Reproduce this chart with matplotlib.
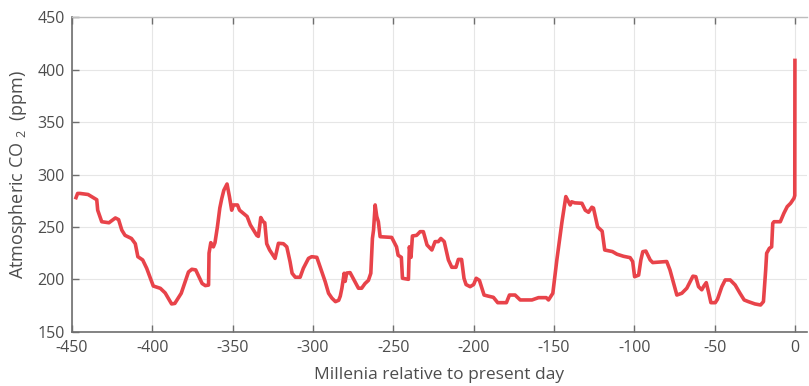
import matplotlib.pyplot as plt

plt.rcParams['font.family'] = ['Open Sans', 'DejaVu Sans']
plt.rcParams['mathtext.fontset'] = 'custom'
plt.rcParams['mathtext.rm'] = 'Open Sans'
plt.rcParams['mathtext.it'] = 'Open Sans'
plt.rcParams['axes.unicode_minus'] = False

# CO2 record (thousands of years before present, ppm)
millenia = [-447.5, -446.5, -445, -440, -434.6, -434, -431.5, -427, -423, -421,
            -419, -417, -413, -410.6, -409, -406, -403.5, -399.4, -395, -392,
            -388, -386, -382, -380.6, -377.5, -375.4, -373, -369, -367, -365,
            -364.7, -363.6, -362, -361, -359.5, -358, -356.8, -355.5, -353.5, -352,
            -350.6, -349.5, -347, -345.7, -341, -339, -335, -334, -332.5, -331,
            -330, -328.8, -327, -323.6, -321.5, -318.4, -316.3, -314.3, -313, -311,
            -308, -306, -302.8, -300.8, -297.6, -294.5, -292.4, -290.3, -288.2, -286,
            -284, -283, -282, -280.6, -280, -279, -276.9, -275, -271.7, -269.7,
            -267.6, -265.5, -264, -263, -262.3, -261.3, -260.3, -259.3, -258.2, -251,
            -248, -247, -245, -244.3, -240.6, -240, -239, -238.1, -235.5, -233.3,
            -231.3, -229, -226, -224, -222, -220.4, -218.3, -215.7, -213.6, -211,
            -209.5, -207.5, -206, -204.7, -202.2, -200, -198.4, -196.4, -193.5, -191,
            -187.7, -185, -179.6, -177.7, -174.2, -171, -163.7, -159.6, -154.8, -153.4,
            -150.7, -148.2, -145, -142.6, -139.9, -139, -137, -132.6, -130.5, -128.5,
            -126.4, -125.4, -122.8, -120, -118.4, -113.6, -110.8, -106.7, -102.6, -101,
            -99.8, -97.3, -95.9, -94.7, -92.8, -90.1, -88.5, -79.8, -77.8, -73.5,
            -70.4, -67.3, -63.5, -61.7, -60, -58, -56.5, -55.2, -53.8, -52.3,
            -49.6, -48.2, -45.5, -43.4, -40.3, -37.2, -34.2, -31.6, -29, -24.9,
            -21.4, -19.6, -18.2, -17.6, -15.9, -14.5, -13.8, -13, -9.1, -6.9,
            -4.8, -2.7, -0.6, -0.1, 0]
co2 = [278, 282, 282, 281, 276, 266, 255, 254, 258.6, 257,
       247, 242, 239, 234, 221.6, 218.5, 210.5, 193.6, 191.4, 187,
       176.5, 177, 186.7, 193, 207, 209.6, 209, 196, 194, 194.5,
       225, 235, 231, 235, 250, 268, 277, 285, 291, 279,
       266, 271, 271, 266, 260, 252, 242, 241, 259, 255,
       254, 234, 228, 220, 234.4, 234, 231, 217, 205.8, 202,
       202, 210.5, 220, 221.6, 221, 207.3, 197.8, 186.7, 182, 178.7,
       180, 184, 191.5, 205.8, 198, 206, 206.4, 201, 191.5, 191.5,
       196, 199, 205.8, 239, 247, 271, 260, 255, 240.7, 240,
       231, 223, 221, 201, 200, 231, 221, 241.4, 242, 245.5,
       245.5, 232.8, 228, 236, 236, 239, 236, 218.5, 211.5, 211.5,
       219, 219, 201, 195, 193, 195, 201, 199, 185, 184,
       182.8, 177.7, 177.7, 185, 185, 180.3, 180.3, 182.5, 182.5, 180.3,
       186.7, 218.5, 255, 279, 271, 274, 273, 272.6, 266, 264,
       268.8, 268, 250, 246, 228, 226.5, 224, 222, 220.7, 217,
       202.5, 204, 218.5, 226.4, 227, 218.5, 216, 217, 209, 185,
       186.7, 191.5, 203, 202.5, 193, 190, 194, 196.8, 188, 177.7,
       177.7, 181, 193, 199.4, 199.4, 194.6, 186.7, 180.3, 178.7, 176.5,
       175.5, 178.7, 209, 224.9, 229.6, 231, 253.5, 255, 255, 263,
       269.4, 272.6, 277.4, 280, 409]

fig = plt.figure(figsize=(8.09, 3.86), dpi=100)
ax = fig.add_axes([0.089, 0.1407, 0.9085, 0.814])

ax.plot(millenia, co2, color='#e8434a', linewidth=2.6, solid_joinstyle='round')

ax.set_xlim(-450, 7.5)
ax.set_ylim(150, 450)
ax.set_xticks(range(-450, 1, 50))
ax.set_yticks(range(150, 451, 50))
ax.grid(True, color='#e6e6e6', linewidth=0.8)
ax.set_axisbelow(True)

for s in ['left', 'bottom']:
    ax.spines[s].set_color('#6e6e6e')
    ax.spines[s].set_linewidth(1.2)
ax.spines['top'].set_color('#bdbdbd')
ax.spines['top'].set_linewidth(1.0)
ax.spines['right'].set_visible(False)

ax.tick_params(axis='x', direction='in', length=5, width=1, color='#6e6e6e',
               top=True, labelsize=11.5, labelcolor='#4d4d4d', pad=6)
ax.tick_params(axis='y', direction='in', length=5, width=1, color='#6e6e6e',
               labelsize=11.5, labelcolor='#4d4d4d', pad=5)

ax.set_xlabel('Millenia relative to present day', fontsize=12.5, color='#4d4d4d', labelpad=8)
ax.set_ylabel('Atmospheric CO$\\,_{\\,2}$  (ppm)', fontsize=13, color='#4d4d4d', labelpad=6)

plt.savefig('out.png', dpi=100)
